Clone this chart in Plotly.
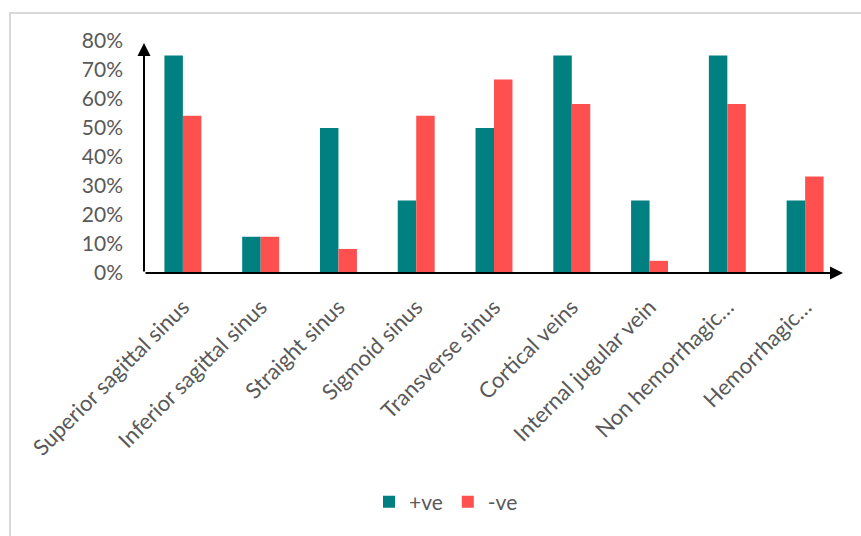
import plotly.graph_objects as go

categories = ["Superior sagittal sinus", "Inferior sagittal sinus", "Straight sinus",
              "Sigmoid sinus", "Transverse sinus", "Cortical veins",
              "Internal jugular vein", "Non hemorrhagic…", "Hemorrhagic…"]
pos_values = [0.75, 0.125, 0.50, 0.25, 0.50, 0.75, 0.25, 0.75, 0.25]
neg_values = [0.542, 0.125, 0.083, 0.542, 0.667, 0.583, 0.042, 0.583, 0.333]
y_ticks = [0, 0.1, 0.2, 0.3, 0.4, 0.5, 0.6, 0.7, 0.8]

W, H = 861, 536
L, R, T, B = 144, 17, 41, 263
pw = W - L - R
ph = H - T - B

fig = go.Figure()
fig.add_trace(go.Bar(name="+ve", x=categories, y=pos_values, marker_color="#008080",
                     marker_line_width=0))
fig.add_trace(go.Bar(name="-ve", x=categories, y=neg_values, marker_color="#FF5050",
                     marker_line_width=0))

font = "Lato, 'Open Sans', sans-serif"
gray = "#595959"

fig.update_layout(
    width=W, height=H,
    margin=dict(l=L, r=R, t=T, b=B),
    paper_bgcolor="white", plot_bgcolor="white",
    barmode="group", bargap=0.525, bargroupgap=0,
    font=dict(family=font, color=gray),
    showlegend=True,
    legend=dict(orientation="h", xref="paper", yref="container",
                x=(446 - L) / pw, xanchor="center", y=1 - 502 / H, yanchor="middle",
                font=dict(size=21, color=gray, family=font), itemwidth=30,
                traceorder="normal"),
    xaxis=dict(showgrid=False, showline=False, zeroline=False, tickangle=-45,
               tickfont=dict(size=22, color=gray, family=font), ticks="",
               range=[-0.5, 8.5], ticklabelstandoff=16),
    yaxis=dict(showgrid=False, showline=False, zeroline=False, range=[0, 0.8],
               tickvals=y_ticks, tickformat=".0%", ticks="",
               tickfont=dict(size=21, color=gray, family=font),
               ticklabelstandoff=20),
)

# chart border (top and left visible)
fig.add_shape(type="rect", xref="paper", yref="paper",
              x0=(10 - L) / pw, x1=(W + 20 - L) / pw,
              y0=-(B + 20) / ph, y1=(273 - 13) / ph,
              line=dict(color="#d9d9d9", width=2), fillcolor="rgba(0,0,0,0)", layer="below")

# x axis with arrow
fig.add_annotation(xref="paper", yref="paper", x=(843 - L) / pw, y=0,
                   ax=-(843 - L), ay=0, axref="pixel", ayref="pixel",
                   text="", showarrow=True, arrowhead=2, arrowsize=1.3,
                   arrowwidth=2, arrowcolor="black", standoff=0)
# y axis with arrow
fig.add_annotation(xref="paper", yref="paper", x=0, y=(273 - 43) / ph,
                   ax=0, ay=(273 - 43), axref="pixel", ayref="pixel",
                   text="", showarrow=True, arrowhead=2, arrowsize=1.3,
                   arrowwidth=2, arrowcolor="black", standoff=0)

fig.write_html("out.html")
